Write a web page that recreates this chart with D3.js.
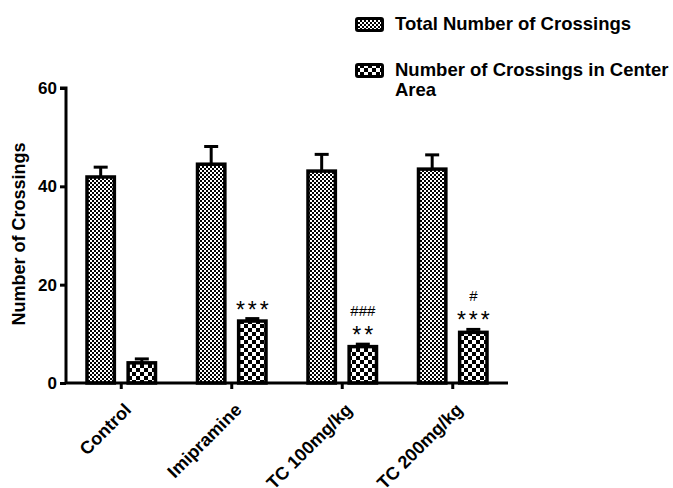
<!DOCTYPE html>
<html>
<head>
<meta charset="utf-8">
<script src="https://cdn.jsdelivr.net/npm/d3@7"></script>
<style>
  html, body { margin: 0; padding: 0; background: #fff; }
  svg { display: block; }
  text { font-family: Arial, "Liberation Sans", sans-serif; font-weight: bold; fill: #000; }
</style>
</head>
<body>
<svg id="chart" width="673" height="488"></svg>
<script>
// Groups and measured values (mean and upper error)
const groups = ["Control", "Imipramine", "TC 100mg/kg", "TC 200mg/kg"];
const seriesNames = ["Total Number of Crossings", "Number of Crossings in Center Area"];
const totalMean = [41.9, 44.5, 43.1, 43.5];
const totalErr = [2.0, 3.6, 3.4, 2.9];
const centerMean = [4.1, 12.6, 7.4, 10.3];
const centerErr = [0.8, 0.5, 0.5, 0.6];
// Significance marks over the center-area bars (upper line, lower line)
const sigUpper = ["", "", "###", "#"];
const sigLower = ["", "***", "**", "***"];
const yTicks = [0, 20, 40, 60];

const FONT = "Arial, 'Liberation Sans', sans-serif";
const svg = d3.select("#chart");
const defs = svg.append("defs");

// Fine checkerboard for total crossings
const p1 = defs.append("pattern").attr("id", "fine").attr("patternUnits", "userSpaceOnUse")
  .attr("width", 4).attr("height", 4);
p1.append("rect").attr("width", 4).attr("height", 4).attr("fill", "#fff");
p1.append("rect").attr("width", 2).attr("height", 2).attr("fill", "#000");
p1.append("rect").attr("x", 2).attr("y", 2).attr("width", 2).attr("height", 2).attr("fill", "#000");

// Coarse checkerboard for center-area crossings
const p2 = defs.append("pattern").attr("id", "coarse").attr("patternUnits", "userSpaceOnUse")
  .attr("width", 8).attr("height", 8);
p2.append("rect").attr("width", 8).attr("height", 8).attr("fill", "#fff");
p2.append("rect").attr("width", 4).attr("height", 4).attr("fill", "#000");
p2.append("rect").attr("x", 4).attr("y", 4).attr("width", 4).attr("height", 4).attr("fill", "#000");

const plot = { left: 66, right: 508, top: 88, bottom: 383 };

const x = d3.scaleBand().domain(groups).range([plot.left, plot.right]).paddingInner(0).paddingOuter(0);
const y = d3.scaleLinear().domain([0, 60]).range([plot.bottom, plot.top]);
const sub = d3.scaleBand().domain(seriesNames).range([-36, 36]).paddingInner(0.25);

const data = groups.map((g, i) => ([
  { g, s: seriesNames[0], v: totalMean[i], e: totalErr[i], fill: "url(#fine)" },
  { g, s: seriesNames[1], v: centerMean[i], e: centerErr[i], fill: "url(#coarse)" }
])).flat();

const bx = d => x(d.g) + x.bandwidth() / 2 + sub(d.s);
const mid = d => bx(d) + sub.bandwidth() / 2;

// Error bars (upper only)
const eb = svg.append("g").attr("stroke", "#000").attr("stroke-width", 3);
eb.selectAll("line.v").data(data).join("line")
  .attr("x1", mid).attr("x2", mid)
  .attr("y1", d => y(d.v)).attr("y2", d => y(d.v + d.e));
eb.selectAll("line.c").data(data).join("line")
  .attr("x1", d => mid(d) - 7).attr("x2", d => mid(d) + 7)
  .attr("y1", d => y(d.v + d.e)).attr("y2", d => y(d.v + d.e));

// Bars
svg.append("g").selectAll("rect").data(data).join("rect")
  .attr("x", d => bx(d) + 1.75)
  .attr("y", d => y(d.v))
  .attr("width", sub.bandwidth() - 3.5)
  .attr("height", d => y(0) - y(d.v))
  .attr("fill", d => d.fill)
  .attr("stroke", "#000").attr("stroke-width", 3.5);

// Significance annotations
const ann = svg.append("g").attr("text-anchor", "middle");
groups.forEach((g, i) => {
  const xc = x(g) + x.bandwidth() / 2 + sub(seriesNames[1]) + sub.bandwidth() / 2;
  const top = y(centerMean[i] + centerErr[i]);
  if (sigLower[i]) {
    ann.append("text").attr("x", xc + 1.5).attr("y", top - 1).attr("font-size", 23)
      .attr("letter-spacing", 3)
      .style("font-weight", "normal")
      .text(sigLower[i]);
  }
  if (sigUpper[i]) {
    ann.append("text").attr("x", xc).attr("y", top - 28).attr("font-size", 15)
      .style("font-weight", "normal").text(sigUpper[i]);
  }
});

// Axes
const yAxis = d3.axisLeft(y).tickValues(yTicks).tickSize(6).tickPadding(3);
const gy = svg.append("g").attr("transform", `translate(${plot.left},0)`).call(yAxis);
gy.select(".domain").attr("stroke-width", 3).attr("d", `M-6,${plot.top}H0V${plot.bottom}`);
gy.selectAll(".tick line").attr("stroke-width", 3);
gy.selectAll(".tick text").attr("font-size", 17).attr("font-family", FONT).attr("font-weight", "bold");

const xAxis = d3.axisBottom(x).tickSize(6).tickPadding(6);
const gx = svg.append("g").attr("transform", `translate(0,${plot.bottom})`).call(xAxis);
gx.select(".domain").attr("stroke-width", 3).attr("d", `M${plot.left},0H${plot.right}`);
gx.selectAll(".tick line").attr("stroke-width", 3);
gx.selectAll(".tick text").attr("font-size", 18).attr("font-family", FONT).attr("font-weight", "bold")
  .attr("text-anchor", "end").attr("dy", null)
  .attr("transform", "translate(11,28) rotate(-45)").attr("y", 0).attr("x", 0);

// Y axis title
svg.append("text").attr("transform", "translate(25,234) rotate(-90)")
  .attr("text-anchor", "middle").attr("font-size", 18).text("Number of Crossings");

// Legend
const leg = svg.append("g");
const legItems = [
  { y: 17, fill: "url(#fine)", lines: ["Total Number of Crossings"] },
  { y: 63, fill: "url(#coarse)", lines: ["Number of Crossings in Center", "Area"] }
];
legItems.forEach(it => {
  leg.append("rect").attr("x", 356.5).attr("y", it.y + 1.5).attr("width", 26).attr("height", 12)
    .attr("fill", it.fill).attr("stroke", "#000").attr("stroke-width", 3).attr("rx", 1.5);
  it.lines.forEach((t, k) => {
    leg.append("text").attr("x", 395).attr("y", it.y + 13 + k * 19.5).attr("font-size", 18.5).text(t);
  });
});
</script>
</body>
</html>
